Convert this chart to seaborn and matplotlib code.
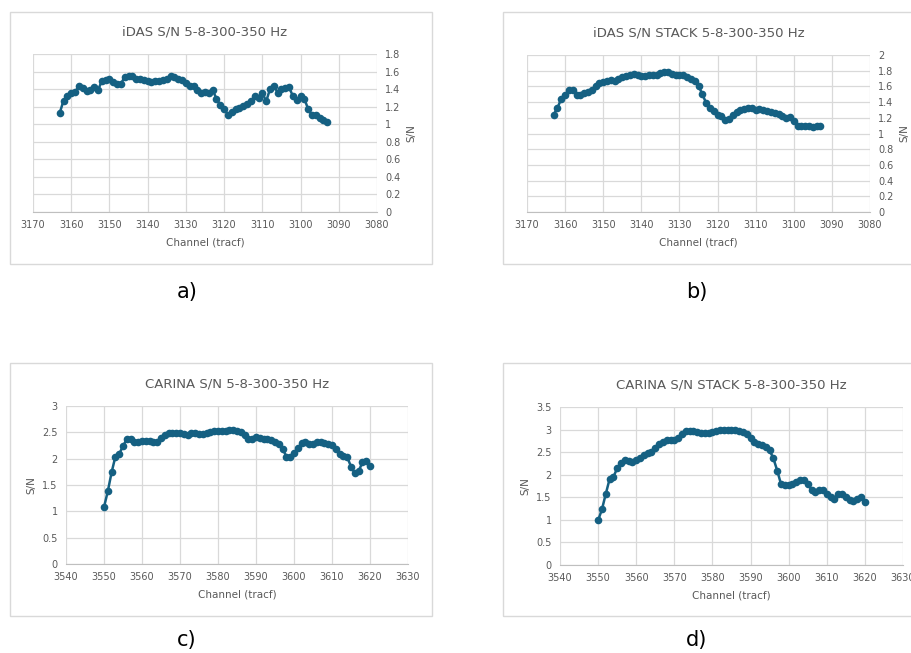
import numpy as np
import pandas as pd
import matplotlib
matplotlib.use('Agg')
import matplotlib.pyplot as plt
import seaborn as sns
from matplotlib.patches import Rectangle

# channels
idas_channels = list(range(3163, 3092, -1))
carina_channels = list(range(3550, 3621))

# S/N values
idas_sn = [1.13, 1.27, 1.32, 1.36, 1.37, 1.43, 1.41, 1.38, 1.39, 1.42,
           1.39, 1.49, 1.50, 1.51, 1.48, 1.46, 1.46, 1.54, 1.55, 1.55,
           1.51, 1.52, 1.50, 1.49, 1.48, 1.49, 1.49, 1.50, 1.51, 1.55,
           1.54, 1.52, 1.50, 1.47, 1.44, 1.43, 1.39, 1.36, 1.37, 1.36,
           1.39, 1.29, 1.22, 1.17, 1.11, 1.14, 1.17, 1.18, 1.21, 1.23,
           1.26, 1.32, 1.30, 1.36, 1.26, 1.40, 1.44, 1.36, 1.40, 1.41,
           1.42, 1.32, 1.28, 1.32, 1.29, 1.17, 1.10, 1.11, 1.07, 1.05,
           1.03]
idas_stack_sn = [1.24, 1.33, 1.44, 1.49, 1.55, 1.55, 1.49, 1.49, 1.51, 1.53,
                 1.55, 1.61, 1.64, 1.66, 1.67, 1.68, 1.67, 1.69, 1.72, 1.73,
                 1.75, 1.76, 1.75, 1.73, 1.73, 1.74, 1.74, 1.75, 1.77, 1.78,
                 1.78, 1.76, 1.75, 1.75, 1.74, 1.72, 1.70, 1.67, 1.61, 1.50,
                 1.39, 1.33, 1.29, 1.24, 1.22, 1.17, 1.19, 1.24, 1.28, 1.30,
                 1.31, 1.33, 1.33, 1.30, 1.31, 1.30, 1.29, 1.27, 1.26, 1.25,
                 1.22, 1.20, 1.21, 1.16, 1.10, 1.09, 1.09, 1.09, 1.08, 1.09,
                 1.10]
carina_sn = [1.08, 1.38, 1.74, 2.04, 2.09, 2.24, 2.37, 2.38, 2.32, 2.32,
             2.34, 2.34, 2.34, 2.31, 2.31, 2.39, 2.45, 2.48, 2.49, 2.49,
             2.48, 2.47, 2.45, 2.49, 2.48, 2.47, 2.47, 2.48, 2.51, 2.52,
             2.52, 2.52, 2.53, 2.54, 2.54, 2.53, 2.51, 2.45, 2.38, 2.38,
             2.41, 2.39, 2.38, 2.37, 2.36, 2.32, 2.27, 2.19, 2.04, 2.03,
             2.10, 2.20, 2.29, 2.31, 2.28, 2.28, 2.32, 2.31, 2.29, 2.28,
             2.26, 2.19, 2.09, 2.05, 2.03, 1.85, 1.72, 1.76, 1.93, 1.95,
             1.86]
carina_stack_sn = [0.99, 1.23, 1.57, 1.90, 1.95, 2.14, 2.25, 2.32, 2.31, 2.28,
                   2.32, 2.38, 2.43, 2.48, 2.50, 2.60, 2.67, 2.73, 2.76, 2.77,
                   2.77, 2.82, 2.90, 2.96, 2.96, 2.96, 2.95, 2.93, 2.93, 2.93,
                   2.94, 2.96, 2.98, 3.00, 3.00, 2.98, 2.98, 2.96, 2.94, 2.91,
                   2.82, 2.73, 2.67, 2.65, 2.62, 2.54, 2.36, 2.09, 1.79, 1.77,
                   1.77, 1.79, 1.84, 1.89, 1.88, 1.79, 1.67, 1.62, 1.66, 1.66,
                   1.58, 1.51, 1.47, 1.57, 1.58, 1.51, 1.44, 1.42, 1.47, 1.50,
                   1.40]

titles = ['iDAS S/N 5-8-300-350 Hz', 'iDAS S/N STACK 5-8-300-350 Hz',
          'CARINA S/N 5-8-300-350 Hz', 'CARINA S/N STACK 5-8-300-350 Hz']
panel_labels = ['a)', 'b)', 'c)', 'd)']

sns.set_style('whitegrid')
plt.rcParams['font.family'] = ['DejaVu Sans']

W, H = 912, 653
fig = plt.figure(figsize=(W / 100, H / 100), dpi=100)
fig.patch.set_facecolor('white')

line_col = '#156082'
grid_col = '#d9d9d9'
text_col = '#595959'


def fx(px):
    return px / W


def fy(py):
    return 1 - py / H


# (box left, box top, box right, box bottom), (plot left, top, right, bottom) in pixels
panels = [
    dict(box=(10, 12, 432, 264), plot=(33, 54, 377, 212), ch=idas_channels, sn=idas_sn,
         xlim=(3170, 3080), ylim=(0, 1.8), ystep=0.2, right=True, label_xy=(187, 292)),
    dict(box=(503, 12, 915, 264), plot=(527, 55, 870, 212), ch=idas_channels, sn=idas_stack_sn,
         xlim=(3170, 3080), ylim=(0, 2.0), ystep=0.2, right=True, label_xy=(697, 292)),
    dict(box=(10, 363, 432, 616), plot=(66, 406, 408, 564), ch=carina_channels, sn=carina_sn,
         xlim=(3540, 3630), ylim=(0, 3.0), ystep=0.5, right=False, label_xy=(187, 640)),
    dict(box=(503, 363, 915, 616), plot=(560, 407, 903, 565), ch=carina_channels, sn=carina_stack_sn,
         xlim=(3540, 3630), ylim=(0, 3.5), ystep=0.5, right=False, label_xy=(697, 640)),
]

for i, p in enumerate(panels):
    bl, bt, br, bb = p['box']
    fig.patches.append(Rectangle((fx(bl), fy(bb)), fx(br - bl), (bb - bt) / H,
                                 transform=fig.transFigure, fill=False,
                                 edgecolor='#d9d9d9', linewidth=1.0))
    l, t, r, b = p['plot']
    ax = fig.add_axes([fx(l), fy(b), fx(r - l), (b - t) / H])
    df = pd.DataFrame({'Channel': p['ch'], 'SN': p['sn']})
    sns.lineplot(data=df, x='Channel', y='SN', ax=ax, color=line_col, marker='o',
                 markersize=5.5, markeredgewidth=0, linewidth=1.8, sort=False)
    ax.set_xlim(*p['xlim'])
    ax.set_ylim(*p['ylim'])
    lo, hi = sorted(p['xlim'])
    ax.set_xticks(np.arange(lo, hi + 1, 10))
    yt = np.arange(0, p['ylim'][1] + 1e-9, p['ystep'])
    ax.set_yticks(yt)
    ax.set_yticklabels(['%g' % v for v in yt])
    ax.grid(True, color=grid_col, linewidth=0.9)
    for s in ['top', 'left', 'right']:
        ax.spines[s].set_visible(False)
    ax.spines['bottom'].set_color('#bfbfbf')
    ax.spines['bottom'].set_linewidth(0.8)
    ax.tick_params(length=0, labelsize=7, labelcolor=text_col, pad=6)
    ax.set_xlabel('Channel (tracf)', fontsize=7.5, color=text_col, labelpad=5)
    ax.set_ylabel('S/N', fontsize=7.5, color=text_col)
    if p['right']:
        ax.yaxis.tick_right()
        ax.yaxis.set_label_position('right')
    ax.set_title(titles[i], fontsize=9.5, color=text_col, pad=13)
    fig.text(fx(p['label_xy'][0]), fy(p['label_xy'][1]), panel_labels[i],
             fontsize=15, ha='center', va='center', color='black')

fig.savefig('out.png', dpi=100)
